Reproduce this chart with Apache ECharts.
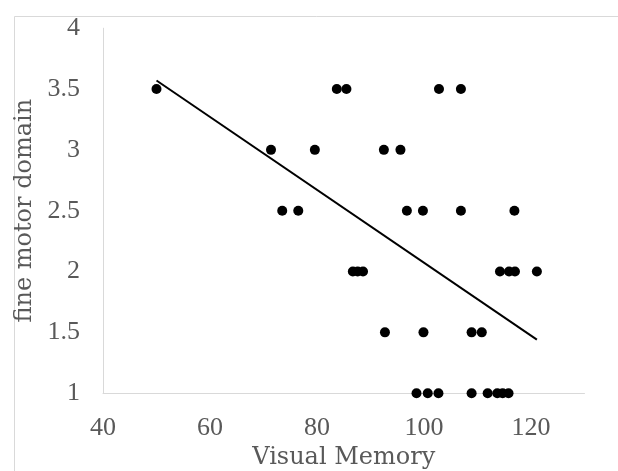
<!DOCTYPE html>
<html>
<head>
<meta charset="utf-8">
<script src="https://cdn.jsdelivr.net/npm/echarts@6/dist/echarts.min.js"></script>
<style>
html,body{margin:0;padding:0;background:#fff;}
#chart{width:618px;height:471px;}
</style>
</head>
<body>
<div id="chart"></div>
<script>
// Visual Memory (x) and fine motor domain (y)
const visualMemory = [
  50.0, 83.7, 85.5, 102.8, 106.9,
  71.4, 79.6, 92.5, 95.6,
  73.5, 76.5, 96.8, 99.8, 106.9, 116.9,
  86.7, 87.6, 88.6, 114.2, 115.9, 117.0, 121.1,
  92.7, 99.9, 108.9, 110.8,
  98.6, 100.7, 102.7, 108.9, 111.9, 113.7, 114.7, 115.8
];
const fineMotor = [
  3.5, 3.5, 3.5, 3.5, 3.5,
  3, 3, 3, 3,
  2.5, 2.5, 2.5, 2.5, 2.5, 2.5,
  2, 2, 2, 2, 2, 2, 2,
  1.5, 1.5, 1.5, 1.5,
  1, 1, 1, 1, 1, 1, 1, 1
];
// linear trendline end points
const trendX = [50.0, 121.1];
const trendY = [3.57, 1.44];
const xTicks = [40, 60, 80, 100, 120];
const xMax = 130;
const yTicks = [1, 1.5, 2, 2.5, 3, 3.5, 4];

const tickFont = 'Liberation Serif';
const titleFont = 'DejaVu Serif';
const txt = '#595959';
const chart = echarts.init(document.getElementById('chart'), null, {renderer: 'canvas'});
chart.setOption({
  backgroundColor: '#ffffff',
  animation: false,
  graphic: [{
    type: 'rect', left: 12, top: 14, silent: true,
    shape: {width: 700, height: 600},
    style: {fill: 'none', stroke: '#d9d9d9', lineWidth: 1}
  }],
  grid: {left: 103, top: 28.2, width: 481.5, height: 365, containLabel: false, outerBoundsMode: 'none'},
  xAxis: {
    type: 'value', min: xTicks[0], max: xMax, interval: 20,
    axisLine: {show: true, lineStyle: {color: '#d9d9d9', width: 1}},
    axisTick: {show: false}, splitLine: {show: false},
    axisLabel: {color: txt, fontFamily: tickFont, fontSize: 26, margin: 22, showMaxLabel: false},
    name: 'Visual Memory', nameLocation: 'middle', nameGap: 47,
    nameTextStyle: {color: txt, fontFamily: titleFont, fontSize: 24}
  },
  yAxis: {
    type: 'value', min: yTicks[0], max: yTicks[yTicks.length - 1], interval: 0.5,
    axisLine: {show: true, lineStyle: {color: '#d9d9d9', width: 1}},
    axisTick: {show: false}, splitLine: {show: false},
    axisLabel: {color: txt, fontFamily: tickFont, fontSize: 26, margin: 23},
    name: 'fine motor domain', nameLocation: 'middle', nameGap: 46, nameRotate: 90,
    nameTextStyle: {color: txt, fontFamily: titleFont, fontSize: 24}
  },
  series: [{
    type: 'scatter', symbol: 'circle', symbolSize: 10,
    itemStyle: {color: '#000000', opacity: 1},
    data: visualMemory.map((x, i) => [x, fineMotor[i]]),
    z: 3
  }, {
    type: 'line', symbol: 'none',
    lineStyle: {color: '#000000', width: 2},
    data: trendX.map((x, i) => [x, trendY[i]]),
    z: 4
  }]
});
</script>
</body>
</html>
